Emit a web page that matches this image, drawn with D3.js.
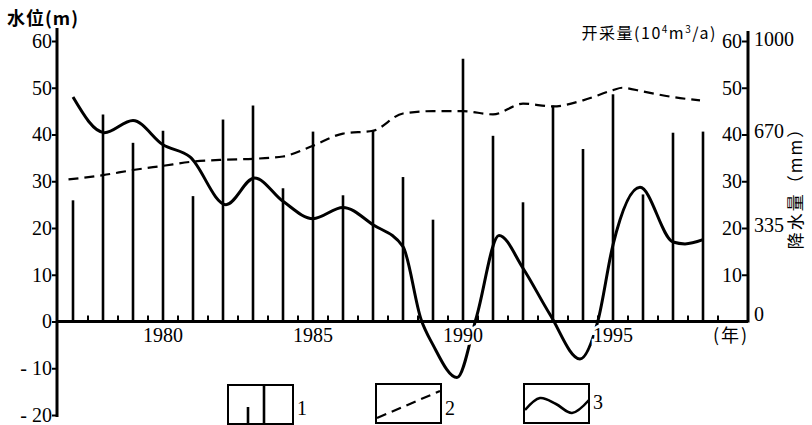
<!DOCTYPE html>
<html>
<head>
<meta charset="utf-8">
<script src="https://cdn.jsdelivr.net/npm/d3@7/dist/d3.min.js"></script>
<style>
  body { margin: 0; background: #fff; }
  svg { display: block; }
  .num { font-family: "Liberation Serif", "DejaVu Serif", serif; font-size: 20px; fill: #000; }
  .cjk { font-family: "Noto Sans CJK SC", sans-serif; fill: #000; }
</style>
</head>
<body>
<svg id="chart" width="812" height="425"></svg>
<script>

// rainfall bars (mm), one per year
var years = [1977,1978,1979,1980,1981,1982,1983,1984,1985,1986,1987,1988,
             1989,1990,1991,1992,1993,1994,1995,1996,1997,1998];
var rainfall = [432,738,637,680,447,720,770,475,677,450,683,515,
                363,937,662,425,770,615,810,453,673,677];

// pumping (10^4 m3/a), dashed line
var pumpYears = [1976.85,1978,1979,1980,1981,1982,1983,1984,1985,1986,1987,1988,
                 1989,1990,1991,1992,1993,1994,1995,1995.3,1996,1997,1997.9];
var pumping = [30.4,31.3,32.4,33.3,34.2,34.6,34.8,35.3,37.6,40.2,40.8,44.5,
               45,45,44.3,46.6,46,47.3,49.5,50,49.2,48,47.3];

// groundwater level (m), solid curve
var levelYears = [1977,1978.05,1979,1980,1980.9,1982.1,1983.05,1984,1985,1986,1987,1988,
                  1988.6,1989,1989.8,1990.45,1991.2,1992,1992.9,1993.9,1994.5,1995,
                  1995.9,1997,1997.4,1998];
var waterLevel = [48,40.4,43,37.8,35.2,25,30.7,25.7,22,24.4,20.7,16,
                  0.5,-5,-12,1,18.4,11.4,1.5,-8,0.2,16.4,
                  28.7,17,16.6,17.5];

var levelTicks = [-20,-10,0,10,20,30,40,50,60];
var pumpTicks = [10,20,30,40,50,60];
var rainTicks = [0,335,670,1000];
var yearLabels = [1980,1985,1990,1995];

var svg = d3.select("#chart");

var x = d3.scaleLinear().domain([1976.5, 1999.5]).range([58, 748]);
var y = d3.scaleLinear().domain([-20, 60]).range([415, 41]);
var yRain = d3.scaleLinear().domain([0, 1000]).range([y(0), y(60)]);

var leftX = x.range()[0] - 1, rightX = x.range()[1];

// bars
svg.append("g").selectAll("line")
    .data(years)
    .enter()
    .append("line")
    .attr("x1", d => x(d)).attr("x2", d => x(d))
    .attr("y1", y(0))
    .attr("y2", (d, i) => yRain(rainfall[i]))
    .attr("stroke", "#000")
    .attr("stroke-width", 2.6);

// pumping dashed
var pumpLine = d3.line()
    .x(d => x(d[0])).y(d => y(d[1]))
    .curve(d3.curveMonotoneX);
svg.append("path")
    .attr("d", pumpLine(d3.zip(pumpYears, pumping)))
    .attr("fill", "none")
    .attr("stroke", "#000")
    .attr("stroke-width", 2.2)
    .attr("stroke-dasharray", "10,6");

// water level curve
var levelLine = d3.line()
    .x(d => x(d[0])).y(d => y(d[1]))
    .curve(d3.curveMonotoneX);
svg.append("path")
    .attr("d", levelLine(d3.zip(levelYears, waterLevel)))
    .attr("fill", "none")
    .attr("stroke", "#000")
    .attr("stroke-width", 3)
    .attr("stroke-linejoin", "round");

// year labels knock out the curve underneath (white halo)
svg.append("g").selectAll("text")
    .data(yearLabels)
    .enter()
    .append("text")
    .attr("class", "num")
    .attr("x", d => x(d))
    .attr("y", 342)
    .attr("text-anchor", "middle")
    .attr("stroke", "#fff")
    .attr("stroke-width", 6)
    .attr("paint-order", "stroke")
    .text(d => d);

// x axis: line + ticks (half years)
svg.append("line")
    .attr("x1", leftX).attr("x2", rightX)
    .attr("y1", y(0)).attr("y2", y(0))
    .attr("stroke", "#000").attr("stroke-width", 3);

var halfYears = years.map(d => d + 0.5);
svg.append("g").selectAll("line")
    .data(halfYears)
    .enter()
    .append("line")
    .attr("x1", d => x(d)).attr("x2", d => x(d))
    .attr("y1", y(0)).attr("y2", y(0) - 6)
    .attr("stroke", "#000").attr("stroke-width", 2);

svg.append("text")
    .attr("class", "cjk")
    .attr("x", 731).attr("y", 342)
    .attr("text-anchor", "middle")
    .attr("font-size", 18)
    .attr("letter-spacing", 2)
    .text("(年)");

// left axis
svg.append("line")
    .attr("x1", leftX).attr("x2", leftX)
    .attr("y1", 28).attr("y2", 417)
    .attr("stroke", "#000").attr("stroke-width", 3);

var leftAxis = svg.append("g")
    .attr("transform", `translate(${leftX},0)`)
    .call(d3.axisLeft(y).tickValues(levelTicks).tickSize(5).tickPadding(0)
        .tickFormat(d => d < 0 ? "- " + (-d) : d));
leftAxis.select(".domain").remove();
leftAxis.selectAll(".tick line").attr("stroke-width", 2);
leftAxis.selectAll("text")
    .attr("class", "num")
    .attr("font-size", null).attr("font-family", null);

svg.append("text")
    .attr("class", "cjk")
    .attr("x", 7).attr("y", 25)
    .attr("font-size", 18)
    .attr("font-weight", "bold")
    .attr("letter-spacing", 1)
    .text("水位(m)");

// right axis
svg.append("line")
    .attr("x1", rightX).attr("x2", rightX)
    .attr("y1", 31).attr("y2", y(0) + 1)
    .attr("stroke", "#000").attr("stroke-width", 3);

var rightInner = svg.append("g")
    .attr("transform", `translate(${rightX},0)`)
    .call(d3.axisLeft(y).tickValues(pumpTicks).tickSize(6).tickPadding(0));
rightInner.select(".domain").remove();
rightInner.selectAll(".tick line").attr("stroke-width", 2);
rightInner.selectAll("text")
    .attr("class", "num")
    .attr("font-size", null).attr("font-family", null);

var rightOuter = svg.append("g")
    .attr("transform", `translate(${rightX},0)`)
    .call(d3.axisRight(yRain).tickValues(rainTicks).tickSize(0).tickPadding(6)
        .tickFormat(d3.format("d")));
rightOuter.select(".domain").remove();
rightOuter.selectAll("text")
    .attr("class", "num")
    .attr("font-size", null).attr("font-family", null)
    .attr("dy", d => d == 0 ? "-0.05em" : "0.2em");

var pumpTitle = svg.append("text")
    .attr("class", "cjk")
    .attr("x", 717).attr("y", 39)
    .attr("text-anchor", "end")
    .attr("font-size", 16)
    .attr("letter-spacing", 1.5);
pumpTitle.append("tspan").text("开采量(10");
pumpTitle.append("tspan").attr("font-size", 10).attr("dy", -6).text("4");
pumpTitle.append("tspan").attr("dy", 6).text("m");
pumpTitle.append("tspan").attr("font-size", 10).attr("dy", -6).text("3");
pumpTitle.append("tspan").attr("dy", 6).text("/a)");

svg.append("text")
    .attr("class", "cjk")
    .attr("transform", "translate(802,184) rotate(-90)")
    .attr("text-anchor", "middle")
    .attr("font-size", 17)
    .attr("letter-spacing", 2)
    .text("降水量（mm）");

// legend
var legend = svg.append("g");
var boxes = [
  {x: 228, y: 385, label: "1"},
  {x: 376, y: 384, label: "2"},
  {x: 524, y: 384, label: "3"}
];
legend.selectAll("rect")
    .data(boxes)
    .enter()
    .append("rect")
    .attr("x", d => d.x).attr("y", d => d.y)
    .attr("width", 65).attr("height", 39)
    .attr("fill", "none")
    .attr("stroke", "#000").attr("stroke-width", 2);
legend.selectAll("text")
    .data(boxes)
    .enter()
    .append("text")
    .attr("class", "num")
    .attr("x", d => d.x + 69)
    .attr("y", (d, i) => i == 2 ? 409 : 415)
    .text(d => d.label);

// item 1: two bars
legend.append("line")
    .attr("x1", 264).attr("x2", 264).attr("y1", 385).attr("y2", 424)
    .attr("stroke", "#000").attr("stroke-width", 2.6);
legend.append("line")
    .attr("x1", 248).attr("x2", 248).attr("y1", 407).attr("y2", 424)
    .attr("stroke", "#000").attr("stroke-width", 2.6);

// item 2: dashed rising line
legend.append("line")
    .attr("x1", 377).attr("y1", 418).attr("x2", 440).attr("y2", 391)
    .attr("stroke", "#000").attr("stroke-width", 2.2)
    .attr("stroke-dasharray", "10,6");

// item 3: wave
var wave = d3.line().curve(d3.curveCatmullRom);
legend.append("path")
    .attr("d", wave([[525,410],[540,398],[556,404],[572,413],[589,400]]))
    .attr("fill", "none")
    .attr("stroke", "#000").attr("stroke-width", 2.6);

</script>
</body>
</html>
